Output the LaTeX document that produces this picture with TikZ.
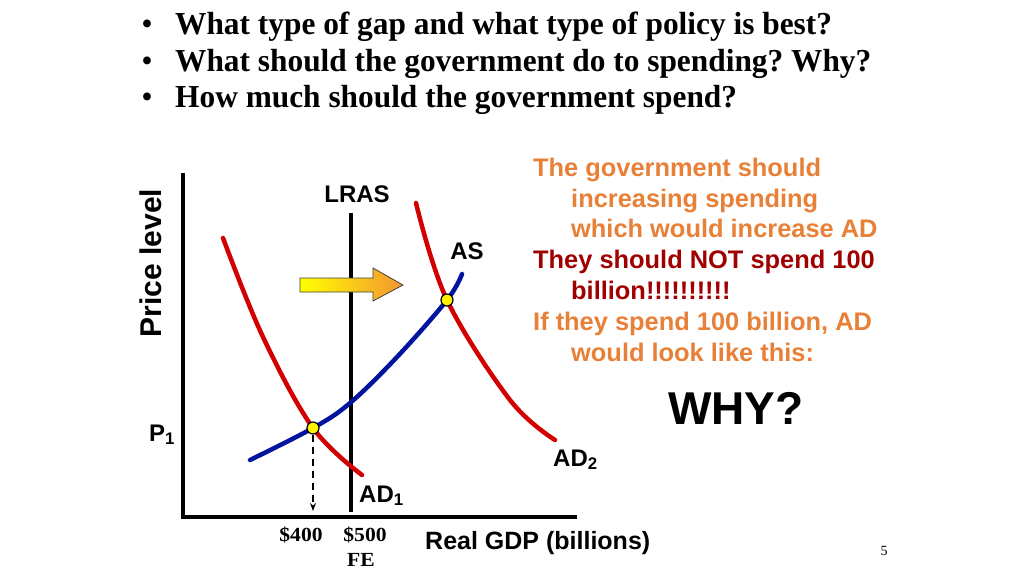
\documentclass[tikz,border=0pt]{standalone}
\usepackage{fontspec}
\usetikzlibrary{arrows.meta}
\setmainfont{Liberation Serif}
\setsansfont{Liberation Sans}
\frenchspacing
\definecolor{adred}{RGB}{210,0,0}
\definecolor{asblue}{RGB}{0,20,160}
\definecolor{noteorange}{RGB}{232,128,56}
\definecolor{notered}{RGB}{160,0,0}
\definecolor{arroworange}{RGB}{245,150,50}
\tikzset{
  lbl/.style={font=\sffamily\bfseries\fontsize{24}{28}\selectfont, inner sep=0pt},
  note/.style={font=\sffamily\bfseries\fontsize{25.4}{30}\selectfont, inner sep=0pt, anchor=base west},
  quest/.style={font=\rmfamily\bfseries\fontsize{32}{36}\selectfont, inner sep=0pt, anchor=base west, xscale=0.98},
  tick/.style={font=\rmfamily\bfseries\fontsize{20}{24}\selectfont, inner sep=0pt, xscale=1.08},
  dot/.style={circle, draw=black, fill=yellow, line width=1.2pt, minimum size=12pt, inner sep=0pt},
}
\begin{document}
\begin{tikzpicture}[x=1pt,y=-1pt]
    \useasboundingbox[fill=white] (0,0) rectangle (1024,576);
    % questions
    \foreach \yy/\txt [count=\i] in {34/What type of gap and what type of policy is best?,
        71/What should the government do to spending? Why?,
        107/How much should the government spend?} {
        \node[quest, font=\rmfamily\bfseries\fontsize{29}{32}\selectfont] (b\i) at (142,\yy-1) {\textbullet};
        \node[quest] (q\i) at (175,\yy) {\txt};
    }
    % axes
    \coordinate (o) at (183,517);
    \draw[line width=4pt] (183,173) -- (o) -- (577,517);
    \node[lbl, font=\sffamily\bfseries\fontsize{30}{34}\selectfont, rotate=90] (ylab) at (151,263) {Price level};
    \node[lbl, font=\sffamily\bfseries\fontsize{25}{30}\selectfont, anchor=base west] (xlab) at (425,549) {Real GDP (billions)};
    % LRAS
    \draw[line width=3.5pt] (351,213) -- (351,512);
    \node[lbl] (lras) at (357,194) {LRAS};
    % curves
    \coordinate (e1) at (313,428);
    \coordinate (e2) at (447,300);
    \draw[adred, line width=4.5pt, line cap=round] plot[smooth, tension=0.6] coordinates {(223,238) (263,337) (e1) (362,475)};
    \draw[adred, line width=4.5pt, line cap=round] plot[smooth, tension=0.6] coordinates {(416,203) (e2) (510,400) (555,440)};
    \draw[asblue, line width=4.5pt, line cap=round] plot[smooth, tension=0.6] coordinates {(250,460) (e1) (350,403) (397,357) (e2) (462,274)};
    \node[dot] (d1) at (e1) {};
    \node[dot] (d2) at (e2) {};
    % dashed drop
    \coordinate (x400) at (313,511);
    \draw[line width=1.6pt, dash pattern=on 7pt off 5pt, -{Stealth[length=8pt,width=6pt]}] (d1) -- (x400);
    % shift arrow
    \shadedraw[left color=yellow, right color=arroworange, draw=black!75, line width=0.8pt]
        (300,278) -- (373,278) -- (373,268) -- (403,285) -- (373,301) -- (373,292) -- (300,292) -- cycle;
    % curve labels
    \node[lbl] (as) at (467,251) {AS};
    \node[lbl, anchor=base west] (ad1) at (359,502) {AD\textsubscript{1}};
    \node[lbl, anchor=base west] (ad2) at (553,466) {AD\textsubscript{2}};
    \node[lbl, anchor=base west] (p1) at (149,441) {P\textsubscript{1}};
    % ticks
    \node[tick] (t400) at (301,535) {\$400};
    \node[tick] (t500) at (365,535) {\$500};
    \node[tick] (tfe) at (361,560) {FE};
    % note
    \node[note, text=noteorange] (n1) at (533,176) {The government should};
    \node[note, text=noteorange] (n2) at (571,207) {increasing spending};
    \node[note, text=noteorange] (n3) at (571,237) {which would increase AD};
    \node[note, text=notered] (n4) at (533,268) {They should NOT spend 100};
    \node[note, text=notered] (n5) at (571,299) {billion!!!!!!!!!!};
    \node[note, text=noteorange] (n6) at (533,330) {If they spend 100 billion, AD};
    \node[note, text=noteorange] (n7) at (571,361) {would look like this:};
    \node[lbl, font=\sffamily\bfseries\fontsize{46}{50}\selectfont] (why) at (736,408) {WHY?};
    \node[font=\rmfamily\fontsize{14}{16}\selectfont, inner sep=0pt] (pg) at (884,551) {5};
\end{tikzpicture}
\end{document}
